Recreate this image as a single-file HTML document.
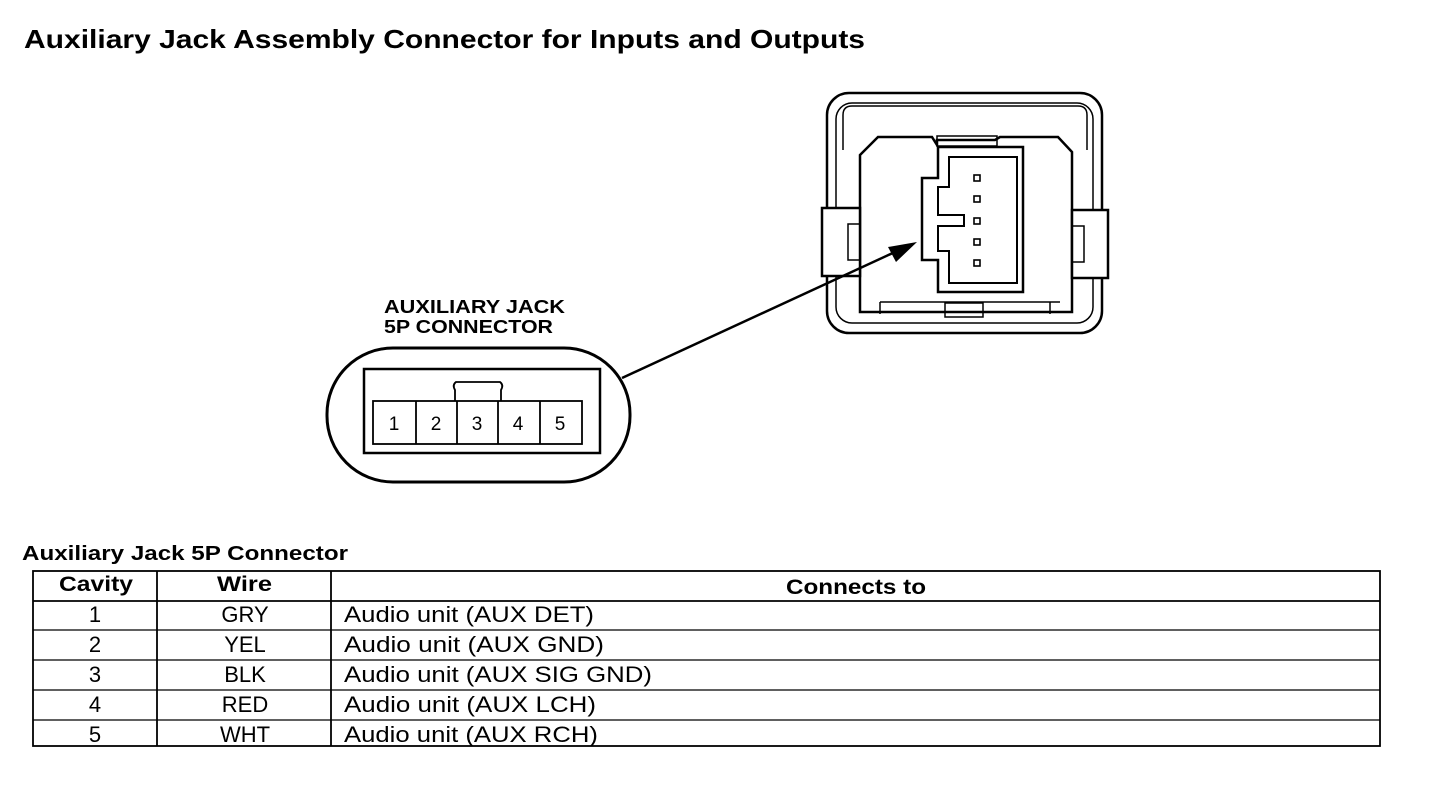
<!DOCTYPE html>
<html><head><style>
body{margin:0;background:#fff;width:1440px;height:786px;overflow:hidden;font-family:"Liberation Sans",Arial,sans-serif}
</style></head><body>
<svg width="1440" height="786" xmlns="http://www.w3.org/2000/svg" font-family="Liberation Sans, Arial, sans-serif">
<text x="24" y="48" font-size="26" font-weight="bold" textLength="841" lengthAdjust="spacingAndGlyphs">Auxiliary Jack Assembly Connector for Inputs and Outputs</text>
<!-- right connector -->
<g fill="none" stroke="#000" stroke-width="2.5">
<rect x="827" y="93" width="275" height="240" rx="22"/>
<rect x="836" y="103" width="257" height="220" rx="16" stroke-width="1.5"/>
<path d="M843 150 L843 115 Q843 106 852 106 L1078 106 Q1087 106 1087 115 L1087 150" stroke-width="1.5"/>
<path d="M860 312 L860 155 L878 137 L932 137 L937 145 L937 140 L995 140 L1000 137 L1058 137 L1072 152 L1072 312 Z" fill="#fff"/>
<rect x="937" y="136" width="60" height="10" stroke-width="1.5"/>
<rect x="822" y="208" width="38" height="68" fill="#fff"/>
<rect x="848" y="224" width="12" height="36" stroke-width="1.5"/>
<rect x="1072" y="210" width="36" height="68" fill="#fff"/>
<rect x="1072" y="226" width="12" height="36" stroke-width="1.5"/>
<path d="M938 147 L1023 147 L1023 292 L938 292 L938 260 L922 260 L922 178 L938 178 Z" fill="#fff"/>
<path d="M949 157 L1017 157 L1017 283 L949 283 L949 251 L938 251 L938 226 L964 226 L964 215 L938 215 L938 187 L949 187 Z" stroke-width="2"/>
<path d="M880 302 L1060 302 M880 302 L880 314 M1050 302 L1050 314" stroke-width="1.5"/>
<rect x="945" y="303" width="38" height="14" stroke-width="1.5"/>
</g>
<g fill="#fff" stroke="#000" stroke-width="1.6">
<rect x="974" y="175" width="6" height="6"/><rect x="974" y="196" width="6" height="6"/><rect x="974" y="218" width="6" height="6"/><rect x="974" y="239" width="6" height="6"/><rect x="974" y="260" width="6" height="6"/>
</g>
<!-- arrow -->
<line x1="622" y1="378" x2="895" y2="252" stroke="#000" stroke-width="2.5"/>
<polygon points="917,242 888,247 896,262" fill="#000"/>
<!-- label -->
<text x="384" y="313" font-size="18" font-weight="bold" textLength="181" lengthAdjust="spacingAndGlyphs">AUXILIARY JACK</text>
<text x="384" y="333" font-size="18" font-weight="bold" textLength="169" lengthAdjust="spacingAndGlyphs">5P CONNECTOR</text>
<rect x="327" y="348" width="303" height="134" rx="66" fill="none" stroke="#000" stroke-width="3"/>
<rect x="364" y="369" width="236" height="84" fill="none" stroke="#000" stroke-width="2.5"/>
<path d="M455 401 L455 390 Q452 385 456 382 L500 382 Q504 385 501 390 L501 401" fill="none" stroke="#000" stroke-width="1.8"/>
<g fill="none" stroke="#000" stroke-width="1.8">
<rect x="373" y="401" width="209" height="43"/>
<line x1="416" y1="401" x2="416" y2="444"/><line x1="457" y1="401" x2="457" y2="444"/><line x1="498" y1="401" x2="498" y2="444"/><line x1="540" y1="401" x2="540" y2="444"/>
</g>
<g font-size="19" text-anchor="middle">
<text x="394" y="430">1</text><text x="436" y="430">2</text><text x="477" y="430">3</text><text x="518" y="430">4</text><text x="560" y="430">5</text>
</g>
<!-- table -->
<text x="22" y="560" font-size="20" font-weight="bold" textLength="326" lengthAdjust="spacingAndGlyphs">Auxiliary Jack 5P Connector</text>
<g fill="none" stroke="#000" stroke-width="1.8">
<rect x="33" y="571" width="1347" height="175"/>
<line x1="157" y1="571" x2="157" y2="746"/><line x1="331" y1="571" x2="331" y2="746"/>
<line x1="33" y1="601" x2="1380" y2="601"/>
<line x1="33" y1="630" x2="1380" y2="630" stroke-width="1.3"/>
<line x1="33" y1="660" x2="1380" y2="660" stroke-width="1.3"/>
<line x1="33" y1="690" x2="1380" y2="690" stroke-width="1.3"/>
<line x1="33" y1="720" x2="1380" y2="720" stroke-width="1.3"/>
</g>
<g font-size="21" font-weight="bold">
<text x="59" y="591" textLength="74" lengthAdjust="spacingAndGlyphs">Cavity</text>
<text x="217" y="591" textLength="55" lengthAdjust="spacingAndGlyphs">Wire</text>
<text x="786" y="594" textLength="140" lengthAdjust="spacingAndGlyphs">Connects to</text>
</g>
<g font-size="22" text-anchor="middle">
<text x="95" y="622">1</text><text x="245" y="622">GRY</text>
<text x="95" y="652">2</text><text x="245" y="652">YEL</text>
<text x="95" y="682">3</text><text x="245" y="682">BLK</text>
<text x="95" y="712">4</text><text x="245" y="712">RED</text>
<text x="95" y="742">5</text><text x="245" y="742">WHT</text>
</g>
<g font-size="22">
<text x="344" y="622" textLength="250" lengthAdjust="spacingAndGlyphs">Audio unit (AUX DET)</text>
<text x="344" y="652" textLength="260" lengthAdjust="spacingAndGlyphs">Audio unit (AUX GND)</text>
<text x="344" y="682" textLength="308" lengthAdjust="spacingAndGlyphs">Audio unit (AUX SIG GND)</text>
<text x="344" y="712" textLength="252" lengthAdjust="spacingAndGlyphs">Audio unit (AUX LCH)</text>
<text x="344" y="742" textLength="254" lengthAdjust="spacingAndGlyphs">Audio unit (AUX RCH)</text>
</g>
</svg>
</body></html>
